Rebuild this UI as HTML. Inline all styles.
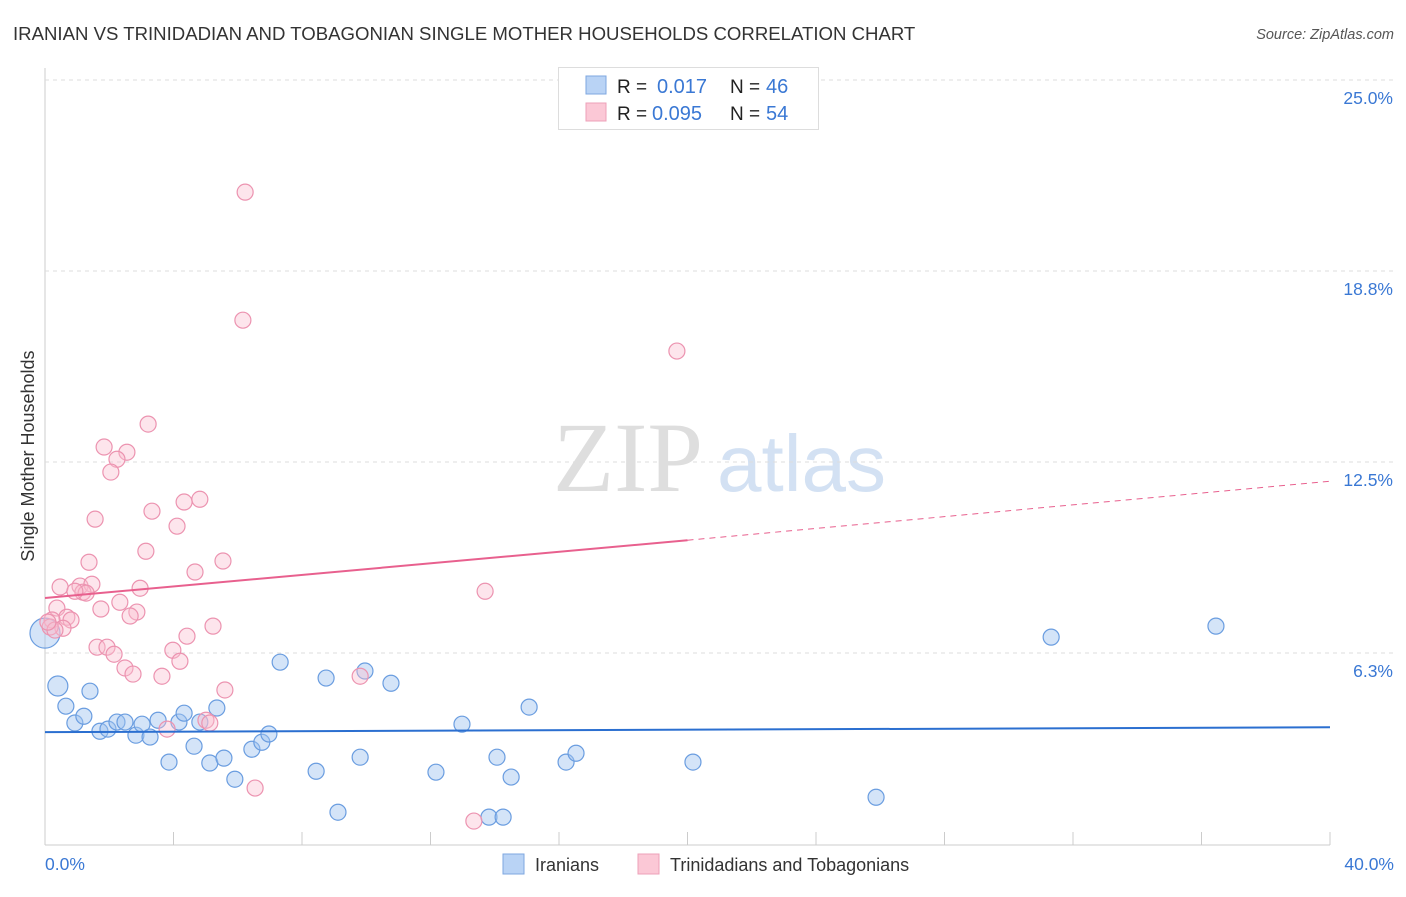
<!DOCTYPE html>
<html><head><meta charset="utf-8"><style>
body{margin:0;background:#fff;font-family:"Liberation Sans",sans-serif;}
svg text{font-family:"Liberation Sans",sans-serif;}
</style></head><body>
<svg id="chart" width="1406" height="892">
<text x="13" y="40" font-size="18.6" fill="#333">IRANIAN VS TRINIDADIAN AND TOBAGONIAN SINGLE MOTHER HOUSEHOLDS CORRELATION CHART</text>
<text x="1394" y="39" font-size="14.5" fill="#555" font-style="italic" text-anchor="end">Source: ZipAtlas.com</text>
<text x="553" y="491" font-size="100" fill="#dedede" font-family="Liberation Serif" style="font-family:'Liberation Serif',serif">ZIP</text>
<text x="717" y="491" font-size="80" fill="#d3e1f3">atlas</text>
<text transform="translate(34,456) rotate(-90)" font-size="18" fill="#333" text-anchor="middle">Single Mother Households</text>
<g id="grid"></g><g id="lines"></g><g id="pts"></g>
<g>
<rect x="558.5" y="67.5" width="260" height="62" fill="#fff" stroke="#ddd"/>
<rect x="586" y="76" width="20" height="18" fill="#b9d3f5" stroke="#7ea7e0"/>
<rect x="586" y="103" width="20" height="18" fill="#fbc8d6" stroke="#eea0b8"/>
<text x="617" y="93" font-size="19" fill="#222">R = </text><text x="657" y="93" font-size="20" fill="#3a78d4">0.017</text>
<text x="730" y="93" font-size="19" fill="#222">N = </text><text x="766" y="93" font-size="20" fill="#3a78d4">46</text>
<text x="617" y="120" font-size="19" fill="#222">R = </text><text x="652" y="120" font-size="20" fill="#3a78d4">0.095</text>
<text x="730" y="120" font-size="19" fill="#222">N = </text><text x="766" y="120" font-size="20" fill="#3a78d4">54</text>
</g>
<g>
<rect x="503" y="854" width="21" height="20" fill="#b9d3f5" stroke="#7ea7e0"/>
<text x="535" y="871" font-size="18" fill="#333">Iranians</text>
<rect x="638" y="854" width="21" height="20" fill="#fbc8d6" stroke="#eea0b8"/>
<text x="670" y="871" font-size="18" fill="#333">Trinidadians and Tobagonians</text>
</g>
</svg>
<script>
const yTicks=[6.25,12.5,18.75,25];
const yTickLabels=["6.3%","12.5%","18.8%","25.0%"];
const xTicks=[0,4,8,12,16,20,24,28,32,36,40];
const blueX=[0,0.40,0.65,0.93,1.21,1.40,1.71,1.96,2.24,2.49,2.83,3.02,3.27,3.52,3.86,4.17,4.33,4.64,4.82,5.13,5.35,5.57,5.91,6.44,6.75,6.97,7.32,8.44,8.75,9.12,9.81,9.96,10.77,12.17,12.98,13.82,14.07,14.26,14.51,15.07,16.22,16.53,20.17,25.87,31.32,36.45];
const blueY=[6.90,5.17,4.51,3.96,4.18,5.00,3.69,3.76,3.99,3.99,3.56,3.92,3.50,4.05,2.68,3.99,4.28,3.20,3.99,2.65,4.45,2.81,2.12,3.10,3.33,3.60,5.95,2.38,5.43,1.04,2.84,5.66,5.26,2.35,3.92,0.88,2.84,0.88,2.19,4.48,2.68,2.97,2.68,1.53,6.77,7.13];
const pinkX=[6.23,6.16,19.67,3.21,1.84,2.55,2.24,2.05,4.82,4.33,3.33,1.56,4.11,3.14,1.37,5.54,4.67,0.47,1.09,1.46,2.96,1.18,1.28,0.93,13.70,2.33,1.74,2.86,0.37,2.65,0.68,0.81,0.22,0.56,5.23,4.42,1.62,1.93,2.15,3.98,4.20,2.49,2.74,3.64,9.81,5.60,5.01,5.13,3.80,6.54,13.35,0.16,0.31,0.09];
const pinkY=[21.33,17.14,16.13,13.74,12.99,12.82,12.59,12.17,11.28,11.19,10.89,10.63,10.40,9.58,9.22,9.26,8.90,8.41,8.44,8.50,8.37,8.24,8.21,8.27,8.27,7.91,7.69,7.59,7.72,7.46,7.42,7.33,7.33,7.06,7.13,6.80,6.44,6.44,6.21,6.34,5.98,5.76,5.56,5.49,5.49,5.04,4.05,3.96,3.76,1.83,0.75,7.10,7.00,7.26];
const blueTrend=[3.66,3.82];
const pinkTrend=[8.05,9.94,11.87];
const NS="http://www.w3.org/2000/svg";
const xs=v=>45+v*32.125, ys=v=>844-v*30.56;
function mk(t,a,p){const e=document.createElementNS(NS,t);for(const k in a)e.setAttribute(k,a[k]);p.appendChild(e);return e;}
const grid=document.getElementById('grid');
mk('line',{x1:45,y1:68,x2:45,y2:845,stroke:'#ccc'},grid);
mk('line',{x1:45,y1:845,x2:1330,y2:845,stroke:'#ccc'},grid);
yTicks.forEach((t,i)=>{
 const l=mk('line',{x1:45,y1:ys(t),x2:1394,y2:ys(t),stroke:'#ddd','stroke-dasharray':'4,4'},grid);
 
 
 const tx=mk('text',{x:1393,y:ys(t)+24,'font-size':17.5,fill:'#3a78d4','text-anchor':'end'},grid);
 tx.textContent=yTickLabels[i];
 
 
});
xTicks.forEach(t=>{const l=mk('line',{x1:xs(t),y1:845,x2:xs(t),y2:832,stroke:'#ccc'},grid);
 
 });
let t0=mk('text',{x:45,y:870,'font-size':17.5,fill:'#3a78d4'},grid);t0.textContent='0.0%';


let t1=mk('text',{x:1394,y:870,'font-size':17.5,fill:'#3a78d4','text-anchor':'end'},grid);t1.textContent='40.0%';


const pts=document.getElementById('pts');
blueX.forEach((x,i)=>{const r=i==0?15:(i==1?10:8);
 const c=mk('circle',{cx:xs(x),cy:ys(blueY[i]),r:r,fill:'rgba(160,196,240,0.45)',stroke:'#6a9de0','stroke-width':1.2},pts);
 
 });
pinkX.forEach((x,i)=>{
 const c=mk('circle',{cx:xs(x),cy:ys(pinkY[i]),r:8,fill:'rgba(250,190,208,0.4)',stroke:'#ec93b0','stroke-width':1.2},pts);
 
 });
const bl=mk('line',{x1:xs(0),y1:ys(blueTrend[0]),x2:xs(40),y2:ys(blueTrend[1]),stroke:'#2b6fd0','stroke-width':2},pts);


const pl=mk('line',{x1:xs(0),y1:ys(pinkTrend[0]),x2:xs(20),y2:ys(pinkTrend[1]),stroke:'#e8608e','stroke-width':2},pts);


const pd=mk('line',{x1:xs(20),y1:ys(pinkTrend[1]),x2:xs(40),y2:ys(pinkTrend[2]),stroke:'#e8608e','stroke-width':1,'stroke-dasharray':'6,5'},pts);


</script>
</body></html>
